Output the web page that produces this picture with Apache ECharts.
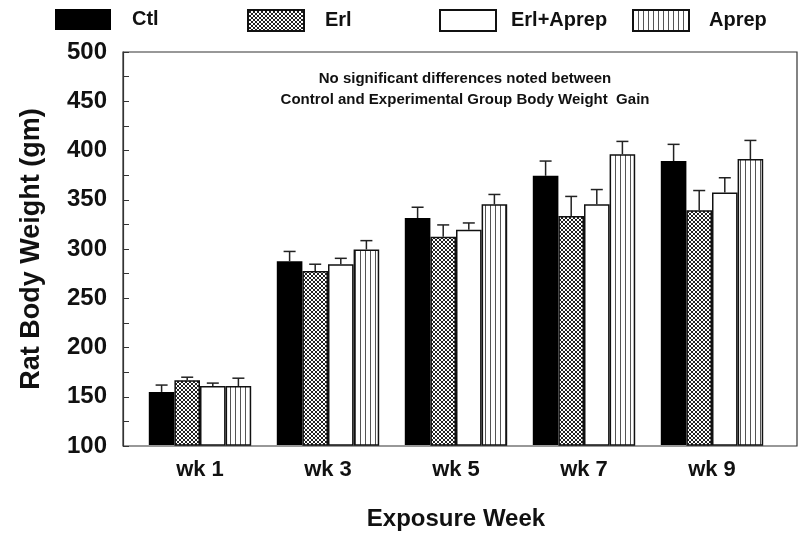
<!DOCTYPE html>
<html>
<head>
<meta charset="utf-8">
<script src="https://cdn.jsdelivr.net/npm/echarts@6/dist/echarts.min.js"></script>
<style>
  html, body { margin: 0; padding: 0; background: #fff; }
  #chart { width: 800px; height: 536px; }
</style>
</head>
<body>
<div id="chart"></div>
<script>
const weeks = ['wk 1', 'wk 3', 'wk 5', 'wk 7', 'wk 9'];
const groupNames = ['Ctl', 'Erl', 'Erl+Aprep', 'Aprep'];

const ctl = [154, 287, 331, 374, 389];
const ctlErr = [7, 10, 11, 15, 17];
const erl = [166, 277, 312, 333, 339];
const erlErr = [3, 7, 12, 20, 20];
const erlAprep = [160, 284, 319, 345, 357];
const erlAprepErr = [3, 6, 7, 15, 15];
const aprep = [160, 299, 345, 396, 391];
const aprepErr = [8, 9, 10, 13, 19];

const yTicks = [100, 150, 200, 250, 300, 350, 400, 450, 500];

const FONT = '"Liberation Sans", Arial, sans-serif';

// fill patterns
const hatch = (() => {
  const c = document.createElement('canvas');
  c.width = 4; c.height = 4;
  const g = c.getContext('2d');
  g.fillStyle = '#fff';
  g.fillRect(0, 0, 4, 4);
  g.strokeStyle = '#222';
  g.lineWidth = 1;
  g.beginPath();
  g.moveTo(0, 0); g.lineTo(4, 4);
  g.moveTo(4, 0); g.lineTo(0, 4);
  g.stroke();
  return c;
})();

const stripes = (() => {
  const c = document.createElement('canvas');
  c.width = 5; c.height = 2;
  const g = c.getContext('2d');
  g.fillStyle = '#fff';
  g.fillRect(0, 0, 5, 2);
  g.fillStyle = '#555';
  g.fillRect(0, 0, 1, 2);
  return c;
})();

const fills = [
  '#000',
  { image: hatch, repeat: 'repeat' },
  '#fff',
  { image: stripes, repeat: 'repeat' }
];
const values = [ctl, erl, erlAprep, aprep];
const errors = [ctlErr, erlErr, erlAprepErr, aprepErr];

const legendLeft = [50, 242, 434, 627];
const legendPad = [16, 16, 10, 15];

const chart = echarts.init(document.getElementById('chart'));

const barSeries = groupNames.map((name, k) => ({
  name: name,
  type: 'bar',
  xAxisIndex: 1,
  yAxisIndex: 1,
  barGap: '0%',
  barCategoryGap: '20%',
  data: values[k],
  itemStyle: {
    color: fills[k],
    borderColor: '#111',
    borderWidth: k === 0 ? 0 : 1.5
  },
  emphasis: { disabled: true },
  z: 2
}));

const errSeries = groupNames.map((name, k) => ({
  name: name + ' err',
  type: 'custom',
  xAxisIndex: 1,
  yAxisIndex: 1,
  z: 3,
  data: values[k].map((v, i) => [i, v, errors[k][i]]),
  encode: { x: 0, y: 1 },
  renderItem: (params, api) => {
    const i = api.value(0);
    const v = api.value(1);
    const e = api.value(2);
    const band = api.size([1, 0])[0];
    const w = band * 0.8 / 4;
    const base = api.coord([i, v]);
    const top = api.coord([i, v + e]);
    const x = base[0] + (k - 1.5) * w;
    const half = 6;
    return {
      type: 'group',
      children: [
        { type: 'line', shape: { x1: x, y1: base[1], x2: x, y2: top[1] },
          style: { stroke: '#222', lineWidth: 1.5 } },
        { type: 'line', shape: { x1: x - half, y1: top[1], x2: x + half, y2: top[1] },
          style: { stroke: '#222', lineWidth: 1.5 } }
      ]
    };
  }
}));

const option = {
  animation: false,
  backgroundColor: '#fff',
  textStyle: { fontFamily: FONT },
  title: {
    text: 'No significant differences noted between\nControl and Experimental Group Body Weight  Gain',
    left: 460,
    top: 63,
    textAlign: 'center',
    textStyle: { fontFamily: FONT, fontSize: 15, fontWeight: 'bold', color: '#111', lineHeight: 21 }
  },
  legend: groupNames.map((name, k) => ({
    data: [name],
    left: legendLeft[k],
    top: 4,
    icon: 'rect',
    itemWidth: 56,
    itemHeight: 21,
    selectedMode: false,
    textStyle: {
      fontFamily: FONT, fontSize: 20, fontWeight: 'bold', color: '#111',
      padding: [0, 0, 0, legendPad[k]]
    }
  })),
  grid: [
    { left: 123, right: 3, top: 52, bottom: 90, show: true, borderColor: '#333', borderWidth: 1.2, backgroundColor: 'transparent' },
    { left: 136, right: 24, top: 52, bottom: 90 }
  ],
  xAxis: [
    { type: 'category', gridIndex: 0, data: weeks, show: false },
    {
      type: 'category', gridIndex: 1, data: weeks,
      axisLine: { show: false }, axisTick: { show: false },
      axisLabel: { fontFamily: FONT, fontSize: 22, fontWeight: 'bold', color: '#111', margin: 14 },
      name: 'Exposure Week', nameLocation: 'middle', nameGap: 62,
      nameTextStyle: { fontFamily: FONT, fontSize: 24, fontWeight: 'bold', color: '#111' }
    }
  ],
  yAxis: [
    {
      type: 'value', gridIndex: 0, min: yTicks[0], max: yTicks[yTicks.length - 1], interval: 50,
      axisLine: { show: true, lineStyle: { color: '#333', width: 1.2 } },
      axisTick: { show: true, inside: true, length: 6, lineStyle: { color: '#333' } },
      minorTick: { show: true, splitNumber: 2, length: 6, lineStyle: { color: '#333' } },
      splitLine: { show: false },
      axisLabel: { fontFamily: FONT, fontSize: 24, fontWeight: 'bold', color: '#111', margin: 16 },
      name: 'Rat Body Weight (gm)', nameLocation: 'middle', nameGap: 78,
      nameTextStyle: { fontFamily: FONT, fontSize: 27, fontWeight: 'bold', color: '#111' }
    },
    { type: 'value', gridIndex: 1, min: 100, max: 500, show: false }
  ],
  series: barSeries.concat(errSeries)
};

chart.setOption(option);
</script>
</body>
</html>
